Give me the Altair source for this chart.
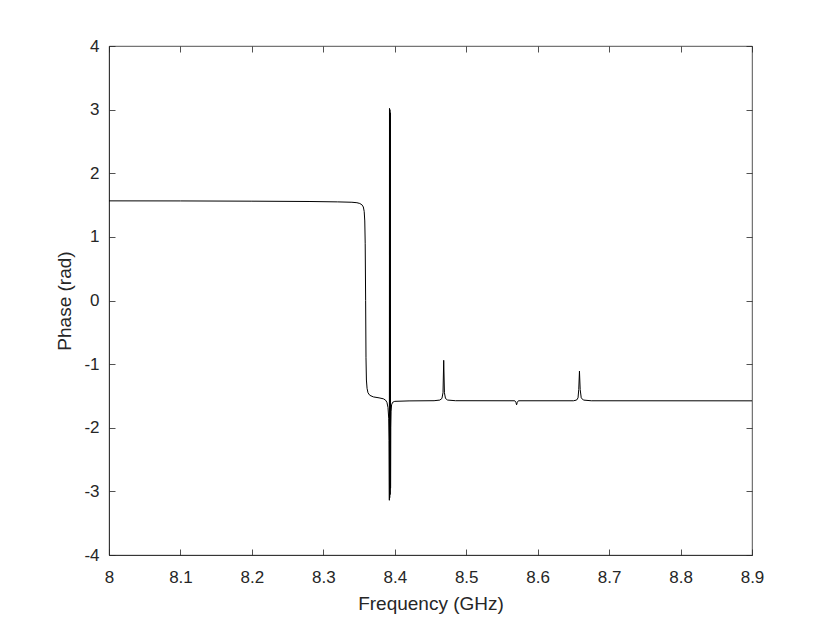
import altair as alt
import pandas as pd

freq = [8.000, 8.100, 8.200, 8.280, 8.320, 8.340, 8.347, 8.351, 8.354, 8.356,
        8.3572, 8.358, 8.3586, 8.3592, 8.3597, 8.3603, 8.3612, 8.3625, 8.365, 8.370,
        8.378, 8.384, 8.387, 8.389, 8.3905, 8.3915, 8.392, 8.3924, 8.3926, 8.3929,
        8.3932, 8.3935, 8.3938, 8.3941, 8.3944, 8.3948, 8.3955, 8.397, 8.400, 8.420,
        8.455, 8.463, 8.466, 8.4675, 8.4685, 8.4695, 8.471, 8.474, 8.485, 8.568,
        8.5695, 8.5705, 8.5715, 8.573, 8.650, 8.6545, 8.6565, 8.6575, 8.6585, 8.6595,
        8.661, 8.664, 8.675, 8.900]
phase = [1.566, 1.565, 1.561, 1.556, 1.550, 1.544, 1.537, 1.525, 1.505, 1.47,
         1.40, 1.25, 0.9, 0.0, -0.9, -1.25, -1.38, -1.45, -1.49, -1.515,
         -1.53, -1.545, -1.565, -1.60, -1.68, -1.85, -2.2, -3.14, 3.02, -3.10,
         3.00, -3.05, 2.95, -2.95, -2.0, -1.75, -1.64, -1.60, -1.585, -1.578,
         -1.575, -1.565, -1.54, -1.45, -0.94, -1.45, -1.54, -1.565, -1.575, -1.576,
         -1.60, -1.64, -1.60, -1.576, -1.576, -1.565, -1.53, -1.40, -1.11, -1.40,
         -1.53, -1.565, -1.576, -1.577]

x_ticks = [8.0, 8.1, 8.2, 8.3, 8.4, 8.5, 8.6, 8.7, 8.8, 8.9]
y_ticks = [-4, -3, -2, -1, 0, 1, 2, 3, 4]

W, H = 643, 509
TICK = 6
AX = "#262626"
FONT = "Liberation Sans"

df = pd.DataFrame({"f": freq, "p": phase, "i": range(len(freq))})

chart = alt.Chart(df).mark_line(color="black", strokeWidth=1).encode(
    x=alt.X("f:Q", scale=alt.Scale(domain=[8.0, 8.9], nice=False, zero=False),
            axis=alt.Axis(values=x_ticks, labelExpr="'' + datum.value",
                          title="Frequency (GHz)", tickSize=0, labelPadding=14,
                          labelFlush=False,
                          grid=True, gridColor=AX, gridWidth=0.8,
                          gridDash=[TICK, H - 2 * TICK, TICK, 3000],
                          titlePadding=9)),
    y=alt.Y("p:Q", scale=alt.Scale(domain=[-4, 4], nice=False, zero=False),
            axis=alt.Axis(values=y_ticks, labelExpr="'' + datum.value",
                          title="Phase (rad)", tickSize=0, labelPadding=10,
                          labelFlush=False,
                          grid=True, gridColor=AX, gridWidth=0.8,
                          gridDash=[TICK, W - 2 * TICK, TICK, 3000],
                          titlePadding=9)),
    order="i:Q",
).properties(
    width=W, height=H,
    padding={"left": 47, "top": 29, "right": 5, "bottom": 5},
).configure_axis(
    domainColor=AX, domainWidth=0.8,
    labelFont=FONT, labelFontSize=17, labelColor=AX,
    titleFont=FONT, titleFontSize=19, titleColor=AX, titleFontWeight="normal",
).configure_view(stroke=AX, strokeWidth=0.8)

chart.save("out.html", embed_options={"renderer": "svg", "actions": False})
